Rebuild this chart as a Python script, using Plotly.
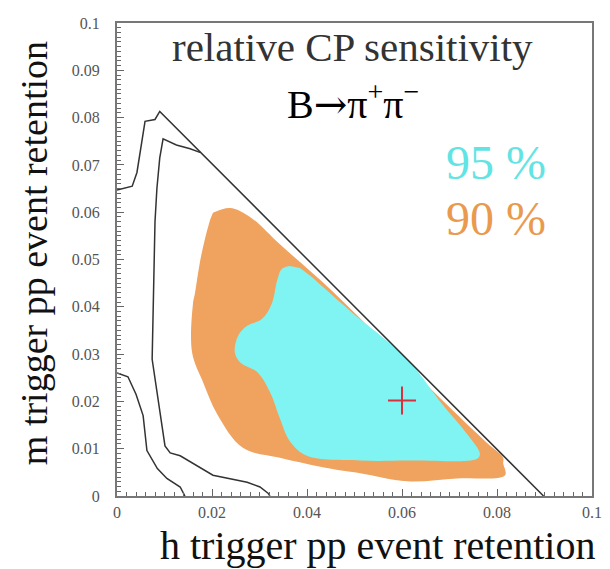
import plotly.graph_objects as go

# ---- data ----
x_ticks = [0, 0.02, 0.04, 0.06, 0.08, 0.1]
x_tick_labels = ["0", "0.02", "0.04", "0.06", "0.08", "0.1"]
y_ticks = [0, 0.01, 0.02, 0.03, 0.04, 0.05, 0.06, 0.07, 0.08, 0.09, 0.1]
y_tick_labels = ["0", "0.01", "0.02", "0.03", "0.04", "0.05", "0.06", "0.07", "0.08", "0.09", "0.1"]

# 90 % region (orange)
region90_x = [0.0202, 0.0238, 0.0280, 0.0343, 0.0448, 0.0560, 0.0680, 0.0779, 0.0813, 0.0813, 0.0817,
              0.0716, 0.0611, 0.0512, 0.0448, 0.0343, 0.0265, 0.0211, 0.0181, 0.0158, 0.0160, 0.0164,
              0.0175, 0.0185, 0.0196]
region90_y = [0.0599, 0.0609, 0.0590, 0.0532, 0.0438, 0.0327, 0.0207, 0.0112, 0.0081, 0.0069, 0.0044,
              0.0037, 0.0031, 0.0048, 0.0058, 0.0081, 0.0102, 0.0173, 0.0241, 0.0304, 0.0407, 0.0428,
              0.0497, 0.0543, 0.0584]

# 95 % region (cyan)
region95_x = [0.0364, 0.0347, 0.0337, 0.0326, 0.0305, 0.0274, 0.0255, 0.0248, 0.0259, 0.0295, 0.0322,
              0.0343, 0.0364, 0.0400, 0.0512, 0.0611, 0.0758, 0.0764, 0.0737, 0.0680, 0.0611, 0.0491,
              0.0406, 0.0385]
region95_y = [0.0486, 0.0480, 0.0455, 0.0407, 0.0374, 0.0360, 0.0339, 0.0304, 0.0283, 0.0262, 0.0220,
              0.0164, 0.0116, 0.0085, 0.0075, 0.0075, 0.0079, 0.0089, 0.0131, 0.0200, 0.0289, 0.0391,
              0.0466, 0.0482]

# black contours
contour_a_x = [0.0, 0.0025, 0.0032, 0.0042, 0.0053, 0.0059, 0.0080, 0.0090, 0.0898]
contour_a_y = [0.0647, 0.0652, 0.0655, 0.0684, 0.0755, 0.0792, 0.0796, 0.0813, 0.0]

contour_b_x = [0.0176, 0.0168, 0.0154, 0.0125, 0.0097, 0.0090, 0.0084, 0.0080, 0.0076, 0.0074,
               0.0101, 0.0112, 0.0133, 0.0202, 0.0274, 0.0301, 0.0318, 0.0322]
contour_b_y = [0.0726, 0.0729, 0.0734, 0.0742, 0.0755, 0.0715, 0.0650, 0.0580, 0.0393, 0.0289,
               0.0106, 0.0091, 0.0085, 0.0044, 0.0029, 0.0019, 0.0006, 0.0]

contour_c_x = [0.0, 0.0023, 0.0040, 0.0055, 0.0063, 0.0085, 0.0105, 0.0133, 0.0143]
contour_c_y = [0.0260, 0.0252, 0.0215, 0.0170, 0.0096, 0.0058, 0.0037, 0.0019, 0.0]

best_point_x = [0.060]
best_point_y = [0.0202]

ORANGE = "#f0a35e"
CYAN = "#7ff4f3"
SERIF = "Liberation Serif, Times New Roman, serif"

fig = go.Figure()

fig.add_trace(go.Scatter(x=region90_x, y=region90_y, fill="toself", fillcolor=ORANGE,
                         mode="lines", line=dict(width=0, color=ORANGE), line_shape="spline",
                         hoverinfo="skip", showlegend=False))
fig.add_trace(go.Scatter(x=region95_x, y=region95_y, fill="toself", fillcolor=CYAN,
                         mode="lines", line=dict(width=0, color=CYAN), line_shape="spline",
                         hoverinfo="skip", showlegend=False))

for cx, cy in [(contour_a_x, contour_a_y), (contour_b_x, contour_b_y), (contour_c_x, contour_c_y)]:
    fig.add_trace(go.Scatter(x=cx, y=cy, mode="lines", line=dict(color="#333333", width=1.5),
                             hoverinfo="skip", showlegend=False))

fig.add_trace(go.Scatter(x=best_point_x, y=best_point_y, mode="markers",
                         marker=dict(symbol="cross-thin", size=20,
                                     line=dict(color="#d8303c", width=2)),
                         showlegend=False))

axis_common = dict(range=[0, 0.1], showgrid=False, zeroline=False, showline=True,
                   linecolor="#777777", linewidth=2, mirror=True,
                   ticks="inside", ticklen=7, tickcolor="#666666", tickwidth=1,
                   tickfont=dict(family=SERIF, size=16, color="#555555"),
                   fixedrange=True)

fig.update_xaxes(**axis_common, tickvals=x_ticks, ticktext=x_tick_labels, ticklabelstandoff=1,
                 minor=dict(ticks="inside", ticklen=4, tickcolor="#666666", dtick=0.002))
fig.update_yaxes(**axis_common, tickvals=y_ticks, ticktext=y_tick_labels, ticklabelstandoff=12,
                 minor=dict(ticks="inside", ticklen=4, tickcolor="#666666", dtick=0.001))

annotations = [
    dict(x=0.0495, y=0.0949, xref="x", yref="y", text="relative CP sensitivity",
         font=dict(family=SERIF, size=41, color="#333333"), showarrow=False),
    dict(x=0.0497, y=0.0834, xref="x", yref="y",
         text="B<span style=\"font-family:'DejaVu Serif'\">→</span>π<sup>+</sup>π<sup>−</sup>",
         font=dict(family=SERIF, size=40, color="#000000"), showarrow=False),
    dict(x=0.0798, y=0.0705, xref="x", yref="y", text="95 %",
         font=dict(family=SERIF, size=48, color="#62e4e4"), showarrow=False),
    dict(x=0.0798, y=0.0587, xref="x", yref="y", text="90 %",
         font=dict(family=SERIF, size=48, color="#e99a4e"), showarrow=False),
    dict(x=0.549, y=-0.104, xref="paper", yref="paper", text="h trigger pp event retention",
         font=dict(family=SERIF, size=40, color="#111111"), showarrow=False,
         xanchor="center", yanchor="middle"),
    dict(x=-0.173, y=0.513, xref="paper", yref="paper", text="m trigger pp event retention",
         font=dict(family=SERIF, size=38, color="#111111"), showarrow=False, textangle=-90,
         xanchor="center", yanchor="middle"),
]

# the page adds an 8px body margin, so the figure is sized/offset to compensate
fig.update_layout(width=602, height=561, margin=dict(l=109, r=18, t=7, b=73),
                  paper_bgcolor="white", plot_bgcolor="white", annotations=annotations)

fig.write_html("out.html")
